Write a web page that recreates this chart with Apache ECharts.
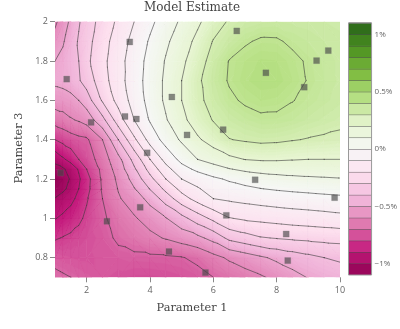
<!DOCTYPE html>
<html><head><meta charset="utf-8">
<script src="https://cdn.jsdelivr.net/npm/echarts@6/dist/echarts.min.js"></script>
<style>html,body{margin:0;padding:0;background:#fff}#c{width:400px;height:329px}</style>
</head><body><div id="c"></div>
<script>
// ---- data ----
const xValues = [1,1.25,1.5,1.75,2,2.5,3,3.5,4,4.5,5,5.5,6,6.5,7,7.5,8,8.5,9,9.5,10];
const yValues = [0.7,0.8,0.9,1.0,1.1,1.15,1.2,1.25,1.3,1.4,1.5,1.6,1.7,1.8,1.9,2.0];
// model estimate (%) per row, one row per yValues entry
const z070 = [-0.68,-0.69,-0.7,-0.71,-0.72,-0.735,-0.75,-0.76,-0.76,-0.755,-0.745,-0.73,-0.7,-0.67,-0.641,-0.612,-0.575,-0.533,-0.495,-0.47,-0.45];
const z080 = [-0.725,-0.735,-0.74,-0.745,-0.745,-0.735,-0.725,-0.718,-0.716,-0.713,-0.705,-0.68,-0.63,-0.585,-0.55,-0.514,-0.48,-0.45,-0.425,-0.4,-0.385];
const z090 = [-0.81,-0.795,-0.78,-0.765,-0.755,-0.73,-0.685,-0.658,-0.625,-0.592,-0.558,-0.525,-0.467,-0.375,-0.34,-0.307,-0.295,-0.285,-0.278,-0.27,-0.265];
const z100 = [-0.905,-0.88,-0.855,-0.82,-0.78,-0.715,-0.66,-0.61,-0.56,-0.505,-0.432,-0.35,-0.275,-0.205,-0.185,-0.175,-0.165,-0.155,-0.148,-0.14,-0.13];
const z110 = [-0.995,-0.96,-0.925,-0.875,-0.81,-0.7,-0.61,-0.552,-0.468,-0.355,-0.242,-0.163,-0.1,-0.085,-0.072,-0.06,-0.05,-0.042,-0.035,-0.027,-0.02];
const z115 = [-1.05,-1.02,-0.97,-0.9,-0.83,-0.69,-0.595,-0.506,-0.395,-0.275,-0.17,-0.11,-0.058,-0.036,-0.018,-0.002,0.009,0.018,0.025,0.032,0.037];
const z120 = [-1.08,-1.04,-0.99,-0.915,-0.835,-0.685,-0.58,-0.463,-0.329,-0.2,-0.1,-0.058,-0.017,0.012,0.035,0.055,0.068,0.078,0.085,0.09,0.095];
const z125 = [-1.035,-1.015,-0.96,-0.89,-0.8,-0.675,-0.555,-0.415,-0.265,-0.134,-0.036,0.021,0.06,0.095,0.119,0.133,0.139,0.142,0.143,0.145,0.148];
const z130 = [-0.97,-0.915,-0.865,-0.8,-0.755,-0.65,-0.53,-0.367,-0.2,-0.067,0.029,0.1,0.138,0.177,0.202,0.21,0.21,0.205,0.2,0.2,0.2];
const z140 = [-0.8,-0.77,-0.745,-0.725,-0.715,-0.6,-0.4,-0.22,-0.063,0.038,0.114,0.186,0.242,0.297,0.31,0.32,0.316,0.305,0.295,0.287,0.28];
const z150 = [-0.66,-0.64,-0.61,-0.59,-0.56,-0.43,-0.25,-0.1,0.008,0.092,0.175,0.247,0.305,0.34,0.365,0.383,0.382,0.37,0.35,0.335,0.32];
const z160 = [-0.55,-0.545,-0.53,-0.5,-0.45,-0.288,-0.167,-0.06,0.033,0.117,0.2,0.277,0.334,0.383,0.413,0.43,0.425,0.403,0.38,0.36,0.345];
const z170 = [-0.48,-0.47,-0.45,-0.41,-0.357,-0.24,-0.14,-0.045,0.038,0.117,0.2,0.283,0.351,0.408,0.44,0.458,0.455,0.43,0.395,0.37,0.35];
const z180 = [-0.5,-0.475,-0.44,-0.4,-0.322,-0.227,-0.136,-0.05,0.031,0.107,0.179,0.258,0.335,0.403,0.43,0.448,0.445,0.42,0.39,0.365,0.35];
const z190 = [-0.56,-0.51,-0.45,-0.39,-0.335,-0.239,-0.152,-0.068,0.011,0.083,0.152,0.225,0.305,0.348,0.39,0.412,0.41,0.385,0.368,0.355,0.345];
const z200 = [-0.62,-0.55,-0.48,-0.41,-0.35,-0.262,-0.181,-0.1,-0.022,0.049,0.116,0.182,0.255,0.31,0.335,0.35,0.355,0.35,0.345,0.34,0.335];
const zRows = [z070,z080,z090,z100,z110,z115,z120,z125,z130,z140,z150,z160,z170,z180,z190,z200];

// sampled points
const sampleX = [1.18,1.37,2.14,3.36,3.21,3.57,3.91,4.69,5.17,6.74,7.66,6.31,8.87,9.26,9.63,7.32,9.83,6.41,8.30,8.35,5.75,2.64,3.69,4.60];
const sampleY = [1.231,1.708,1.488,1.897,1.518,1.505,1.333,1.617,1.424,1.953,1.74,1.451,1.667,1.802,1.853,1.196,1.105,1.015,0.92,0.785,0.724,0.985,1.056,0.831];

// contour levels (%)
const levels = [-1.1,-1.0,-0.9,-0.8,-0.7,-0.6,-0.5,-0.4,-0.3,-0.2,-0.1,0,0.1,0.2,0.3,0.4,0.5,0.6,0.7,0.8,0.9,1.0,1.1];
const xTickValues = [2,4,6,8,10];
const yTickValues = [0.8,1,1.2,1.4,1.6,1.8,2];
const colorbarTickValues = [-1,-0.5,0,0.5,1];

// ---- styling ----
const Z_MIN = -1.1, Z_MAX = 1.1, FILL_STEP = 0.015;
const STOPS = [[0,[142,1,82]],[0.1,[197,27,125]],[0.2,[222,119,174]],[0.3,[241,182,218]],[0.4,[253,224,239]],
  [0.5,[247,247,247]],[0.6,[230,245,208]],[0.7,[184,225,134]],[0.8,[127,188,65]],[0.9,[77,146,33]],[1,[39,100,25]]];
function colorAt(z){
  let t = (z - Z_MIN)/(Z_MAX - Z_MIN); t = Math.max(0, Math.min(1, t));
  for (let k=1;k<STOPS.length;k++){
    if (t <= STOPS[k][0]) {
      const a = STOPS[k-1], b = STOPS[k], f = (t - a[0])/(b[0]-a[0]);
      const c = a[1].map((v,m)=>Math.round(v + f*(b[1][m]-v)));
      return 'rgb('+c.join(',')+')';
    }
  }
  return 'rgb(39,100,25)';
}
function clipAbove(pts, t){
  const out = [];
  for (let k=0;k<pts.length;k++){
    const a = pts[k], b = pts[(k+1)%pts.length];
    const ain = a.v >= t, bin = b.v >= t;
    if (ain) out.push(a);
    if (ain !== bin){ const f = (t-a.v)/(b.v-a.v); out.push({x:a.x+f*(b.x-a.x), y:a.y+f*(b.y-a.y), v:t}); }
  }
  return out;
}
function cellTriangles(api){
  const i = api.value(2), j = api.value(3);
  const P = (ii,jj)=>{ const c = api.coord([xValues[ii], yValues[jj]]); return {x:c[0], y:c[1], v:zRows[jj][ii]}; };
  const a=P(i,j), b=P(i+1,j), c=P(i+1,j+1), d=P(i,j+1);
  return Math.abs(a.v-c.v) <= Math.abs(b.v-d.v) ? [[a,b,c],[a,c,d]] : [[a,b,d],[b,c,d]];
}
function poly(pts,col){ return {type:'polygon', shape:{points:pts.map(p=>[p.x,p.y])}, style:{fill:col, stroke:col, lineWidth:0.6}}; }

function renderFill(params, api){
  const children = [];
  for (const tri of cellTriangles(api)){
    const vs = tri.map(p=>p.v), vmin = Math.min(...vs), vmax = Math.max(...vs);
    const k0 = Math.floor((vmin - Z_MIN)/FILL_STEP), k1 = Math.floor((vmax - Z_MIN)/FILL_STEP);
    children.push(poly(tri, colorAt(Z_MIN + (k0+0.5)*FILL_STEP)));
    for (let k=k0+1;k<=k1;k++){
      const t = Z_MIN + k*FILL_STEP, p = clipAbove(tri, t);
      if (p.length >= 3) children.push(poly(p, colorAt(t + FILL_STEP/2)));
    }
  }
  return {type:'group', children};
}
function renderLines(params, api){
  const children = [];
  for (const tri of cellTriangles(api)){
    for (const L of levels){
      const pts = tri.map(p=>({x:p.x, y:p.y, v:(p.v===L ? p.v+1e-9 : p.v)}));
      const seg = [];
      for (let k=0;k<3;k++){
        const a = pts[k], b = pts[(k+1)%3];
        if ((a.v-L)*(b.v-L) < 0){ const f=(L-a.v)/(b.v-a.v); seg.push([a.x+f*(b.x-a.x), a.y+f*(b.y-a.y)]); }
      }
      if (seg.length === 2) children.push({type:'line', shape:{x1:seg[0][0],y1:seg[0][1],x2:seg[1][0],y2:seg[1][1]},
        style:{stroke:'rgba(55,55,55,0.72)', lineWidth:0.8, lineCap:'round'}});
    }
  }
  return {type:'group', children};
}

const cells = [];
for (let j=0;j<yValues.length-1;j++) for (let i=0;i<xValues.length-1;i++) cells.push([xValues[i], yValues[j], i, j]);
const bands = [];
for (let k=0;k<levels.length-1;k++) bands.push([0, levels[k], levels[k+1]]);

const tickFont = {color:'#666', fontSize:9, fontFamily:'"Open Sans", sans-serif'};
const chart = echarts.init(document.getElementById('c'), null, {renderer:'canvas'});
chart.setOption({
  animation:false,
  grid:[
    {left:55, top:21.7, width:285, height:255.6},
    {left:348.5, top:23, width:26, height:252}
  ],
  xAxis:[
    {type:'value', gridIndex:0, min:1, max:10, axisLine:{show:false}, splitLine:{show:false},
     axisTick:{show:true, length:5, customValues:xTickValues, lineStyle:{color:'#888'}},
     axisLabel:Object.assign({customValues:xTickValues, margin:9}, tickFont)},
    {type:'value', gridIndex:1, min:0, max:1, show:false}
  ],
  yAxis:[
    {type:'value', gridIndex:0, min:0.7, max:2, axisLine:{show:false}, splitLine:{show:false},
     axisTick:{show:true, length:5, customValues:yTickValues, lineStyle:{color:'#888'}},
     axisLabel:Object.assign({customValues:yTickValues, margin:7}, tickFont)},
    {type:'value', gridIndex:1, min:-1.1, max:1.1, position:'right', axisLine:{show:false}, splitLine:{show:false},
     axisTick:{show:true, length:2, customValues:colorbarTickValues, lineStyle:{color:'#888'}},
     axisLabel:Object.assign({customValues:colorbarTickValues, margin:3,
       formatter:v=>(v<0?'\u2212':'')+Math.abs(v)+'%'}, tickFont, {fontSize:8})}
  ],
  series:[
    {type:'custom', xAxisIndex:0, yAxisIndex:0, data:cells, encode:{x:0, y:1}, renderItem:renderFill, clip:true, z:1, silent:true},
    {type:'custom', xAxisIndex:0, yAxisIndex:0, data:cells, encode:{x:0, y:1}, renderItem:renderLines, clip:true, z:2, silent:true},
    {type:'scatter', xAxisIndex:0, yAxisIndex:0, data:sampleX.map((x,k)=>[x, sampleY[k]]), symbol:'rect', symbolSize:6,
     itemStyle:{color:'rgba(70,70,70,0.8)', borderColor:'rgba(110,110,110,0.6)', borderWidth:0.5}, z:3, silent:true},
    {type:'custom', xAxisIndex:1, yAxisIndex:1, data:bands, encode:{x:0, y:[1,2]}, z:1, silent:true,
     renderItem:(params, api)=>{
       const lo = api.value(1), hi = api.value(2);
       const p0 = api.coord([0, lo]), p1 = api.coord([1, hi]);
       return {type:'group', children:[
         {type:'rect', shape:{x:p0[0], y:p1[1], width:p1[0]-p0[0], height:p0[1]-p1[1]}, style:{fill:colorAt((lo+hi)/2)}},
         {type:'line', shape:{x1:p0[0], y1:p1[1], x2:p1[0], y2:p1[1]}, style:{stroke:'rgba(60,60,60,0.85)', lineWidth:1}}
       ]};
     }},
    {type:'custom', xAxisIndex:1, yAxisIndex:1, data:[[0, levels[0], levels[levels.length-1]]], encode:{x:0, y:[1,2]}, z:2, silent:true,
     renderItem:(params, api)=>{
       const p0 = api.coord([0, api.value(1)]), p1 = api.coord([1, api.value(2)]);
       return {type:'rect', shape:{x:p0[0], y:p1[1], width:p1[0]-p0[0], height:p0[1]-p1[1]}, style:{fill:'none', stroke:'#999', lineWidth:1}};
     }}
  ],
  graphic:[
    {type:'text', x:192, y:8, style:{text:'Model Estimate', font:'12px "DejaVu Serif", serif', fill:'#444', align:'center', verticalAlign:'middle', textAlign:'center', textVerticalAlign:'middle'}},
    {type:'text', x:192, y:308, style:{text:'Parameter 1', font:'11.3px "DejaVu Serif", serif', fill:'#444', align:'center', verticalAlign:'middle', textAlign:'center', textVerticalAlign:'middle'}},
    {type:'text', x:19, y:148, rotation:Math.PI/2, style:{text:'Parameter 3', font:'11.3px "DejaVu Serif", serif', fill:'#444', align:'center', verticalAlign:'middle', textAlign:'center', textVerticalAlign:'middle'}}
  ]
});
</script>
</body></html>
